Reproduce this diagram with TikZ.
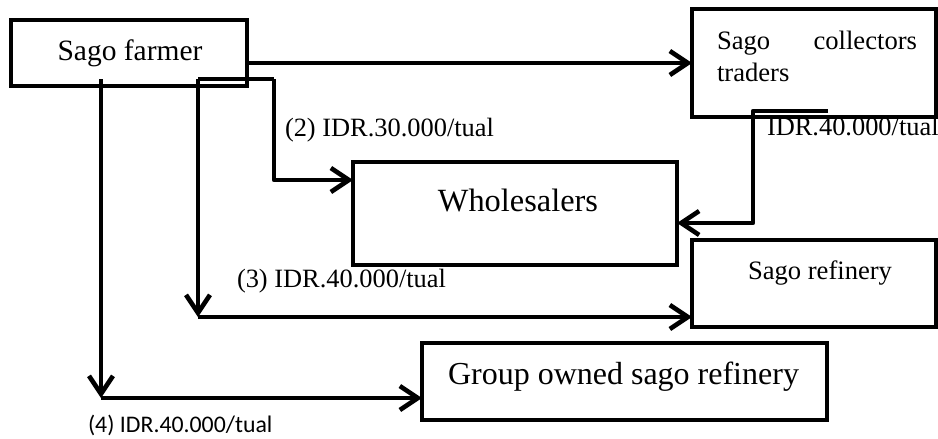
\documentclass[tikz,border=0pt]{standalone}
\usepackage{fontspec}
\setmainfont{Liberation Serif}
\newfontfamily\carlito{Carlito}
\usetikzlibrary{arrows.meta}
\begin{document}
\begin{tikzpicture}[x=0.5pt,y=-0.5pt,
  box/.style={draw,line width=2.4pt,inner sep=0pt,outer sep=0pt},
  txt/.style={inner sep=0pt,outer sep=0pt,anchor=base west},
  flow/.style={line width=2.3pt,line join=round,-{Straight Barb[length=9pt,width=12pt]}},
  plain/.style={line width=2.3pt,line join=round}]
\useasboundingbox (0,0) rectangle (938,439);
% boxes
\node[box,minimum width=118pt,minimum height=33pt] (farmer) at (129,53) {};
\node[box,minimum width=122pt,minimum height=54pt] (collector) at (814,63) {};
\node[box,minimum width=162pt,minimum height=51.5pt] (whole) at (515,213.5) {};
\node[box,minimum width=122pt,minimum height=43.5pt] (refinery) at (814,283.5) {};
\node[box,minimum width=202.5pt,minimum height=38.5pt] (group) at (624.5,381.5) {};
% box texts
\node[txt,anchor=base,font=\fontsize{14.75}{17}\selectfont] (tfarmer) at (130,61) {Sago farmer};
\node[txt,font=\fontsize{13.3}{16}\selectfont] (tcol1) at (717,49) {\makebox[100pt][s]{Sago collectors}};
\node[txt,font=\fontsize{13.3}{16}\selectfont] (tcol2) at (717,81) {traders};
\node[txt,anchor=base,font=\fontsize{16.2}{19}\selectfont] (twhole) at (518,211) {Wholesalers};
\node[txt,font=\fontsize{13.3}{16}\selectfont] (tref) at (748,279) {Sago refinery};
\node[txt,font=\fontsize{16}{19}\selectfont] (tgroup) at (448,384) {Group owned sago refinery};
% labels
\node[txt,font=\fontsize{13.2}{16}\selectfont] (l2) at (285,136) {(2) IDR.30.000/tual};
\node[txt,font=\fontsize{13.2}{16}\selectfont] (l1) at (767,135) {IDR.40.000/tual};
\node[txt,font=\fontsize{13.2}{16}\selectfont] (l3) at (237,287) {(3) IDR.40.000/tual};
\node[txt,font=\carlito\fontsize{11.9}{14}\selectfont] (l4) at (88,432) {(4) IDR.40.000/tual};
% coordinates
\coordinate (a1) at (247,63);
\coordinate (b0) at (198,79);
\coordinate (b1) at (274,79);
\coordinate (b2) at (274,180);
\coordinate (c1) at (198,317);
\coordinate (d0) at (101,79);
\coordinate (d1) at (101,398);
\coordinate (e0) at (828,111);
\coordinate (e1) at (753,111);
\coordinate (e2) at (753,223);
% connectors
\draw[flow] (a1) -- (collector.west |- a1);
\draw[plain] (b0) -- (b1);
\draw[flow] (b1) -- (b2) -- (whole.west |- b2);
\draw[flow] (b0) -- (c1);
\draw[flow] (c1) -- (refinery.west |- c1);
\draw[flow] (d0) -- (d1);
\draw[flow] (d1) -- (group.west |- d1);
\draw[flow] (e0) -- (e1) -- (e2) -- (whole.east |- e2);
\end{tikzpicture}
\end{document}
